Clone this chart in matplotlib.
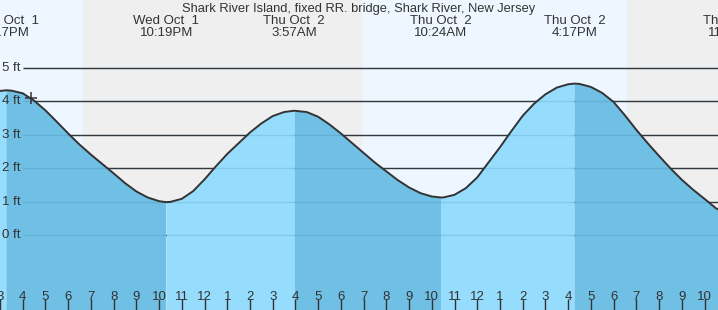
import matplotlib
matplotlib.use("Agg")
import matplotlib.pyplot as plt

# hours counted from Wed Oct 1 00:00, heights in ft
tide_hours = [14.5, 15.0, 15.283, 15.5, 16.0, 16.5, 17.0, 17.5, 18.0, 18.5, 19.0, 19.5,
              20.0, 20.5, 21.0, 21.5, 22.0, 22.317, 22.5, 23.0, 23.5, 24.0, 24.5, 25.0,
              25.5, 26.0, 26.5, 27.0, 27.5, 27.95, 28.5, 29.0, 29.5, 30.0, 30.5, 31.0,
              31.5, 32.0, 32.5, 33.0, 33.5, 34.0, 34.4, 34.5, 35.0, 35.5, 36.0, 36.5,
              37.0, 37.5, 38.0, 38.5, 39.0, 39.5, 40.0, 40.283, 40.5, 41.0, 41.5, 42.0,
              42.5, 43.0, 43.5, 44.0, 44.5, 45.0, 45.5, 46.0, 46.5, 47.0]
tide_ft = [4.18, 4.30, 4.32, 4.31, 4.23, 4.01, 3.72, 3.38, 3.03, 2.70, 2.40, 2.12,
           1.84, 1.55, 1.30, 1.12, 1.01, 0.98, 0.99, 1.08, 1.31, 1.66, 2.05, 2.42,
           2.74, 3.06, 3.33, 3.55, 3.67, 3.71, 3.67, 3.53, 3.30, 3.03, 2.74, 2.45,
           2.16, 1.90, 1.64, 1.42, 1.25, 1.15, 1.12, 1.12, 1.20, 1.40, 1.72, 2.17,
           2.62, 3.10, 3.56, 3.92, 4.20, 4.40, 4.50, 4.52, 4.51, 4.42, 4.24, 3.97,
           3.57, 3.14, 2.74, 2.36, 1.99, 1.65, 1.35, 1.08, 0.80, 0.62]

# high / low tides
event_hours = [15.283, 22.317, 27.95, 34.4, 40.283, 47.3]
event_days = ["Wed Oct  1", "Wed Oct  1", "Thu Oct  2", "Thu Oct  2", "Thu Oct  2", "Thu Oct  2"]
event_times = ["3:17PM", "10:19PM", "3:57AM", "10:24AM", "4:17PM", "11:18PM"]

# night spans (sunset -> sunrise)
night_start = [18.64, 42.61]
night_end = [30.91, 50.0]

ft_levels = [0, 1, 2, 3, 4, 5]
hour_ticks = list(range(15, 47))
hour_labels = [str(h % 12 if h % 12 else 12) for h in hour_ticks]

now_hour, now_ft = 16.35, 4.1

plt.rcParams['font.family'] = ['Liberation Sans', 'DejaVu Sans']

x0 = 16 - 22 / 22.75
x1 = 16 + 696 / 22.75

fig = plt.figure(figsize=(7.18, 3.10), dpi=100)
ax = fig.add_axes([0, 0, 1, 1])
ax.set_xlim(x0, x1)
ax.set_ylim(-75 / 33.5, 235 / 33.5)
ax.set_facecolor('#eef7ff')
ax.set_axisbelow(False)
for s, e in zip(night_start, night_end):
    ax.axvspan(s, e, color='#efefef', lw=0, zorder=0)

# grid lines
ax.hlines(ft_levels, 16, x1, color='#333333', lw=1, zorder=1)

# fill: falling tide darker, rising tide lighter
bounds = [tide_hours[0]] + event_hours[:5] + [tide_hours[-1]]
for i in range(len(bounds) - 1):
    a, b = bounds[i], bounds[i + 1]
    xs = [h for h in tide_hours if a <= h <= b]
    ys = [f for h, f in zip(tide_hours, tide_ft) if a <= h <= b]
    col = '#70bfe5' if i % 2 == 1 else '#96dcfd'
    ax.fill_between(xs, ys, -5, color=col, lw=0, zorder=2)

ax.hlines(ft_levels, 16, x1, color='#1a5f8a', lw=1, alpha=0.15, zorder=3)
ax.plot(tide_hours, tide_ft, color='#333333', lw=1.4, zorder=4)
ax.plot([now_hour], [now_ft], marker='+', ms=9, mew=1.1, color='#333333', zorder=5)

for lv in ft_levels:
    ax.text(2 / 718, lv, f"{lv} ft", transform=ax.get_yaxis_transform(),
            ha='left', va='center', fontsize=9.5, color='#333333', zorder=6)

tr = ax.get_xaxis_transform()
for h, d, t in zip(event_hours, event_days, event_times):
    ax.text(h, 1 - 21 / 310, d, transform=tr, ha='center', va='center', fontsize=9.5, color='#333333')
    ax.text(h, 1 - 33 / 310, t, transform=tr, ha='center', va='center', fontsize=9.5, color='#333333')

ax.text(0.5, 1 - 9 / 310, "Shark River Island, fixed RR. bridge, Shark River, New Jersey",
        transform=ax.transAxes, ha='center', va='center', fontsize=9.3, color='#333333')

ax.set_xticks(hour_ticks)
ax.set_xticklabels(hour_labels)
ax.set_xticks([24], minor=True)
ax.tick_params(axis='x', which='major', direction='in', length=8, width=1, color='#333333',
               labelsize=9.5, labelcolor='#333333', pad=-14)
ax.tick_params(axis='x', which='minor', direction='in', length=8, width=3, color='#333333')
ax.set_yticks([])
for sp in ax.spines.values():
    sp.set_visible(False)

fig.savefig("out.png", dpi=100)
